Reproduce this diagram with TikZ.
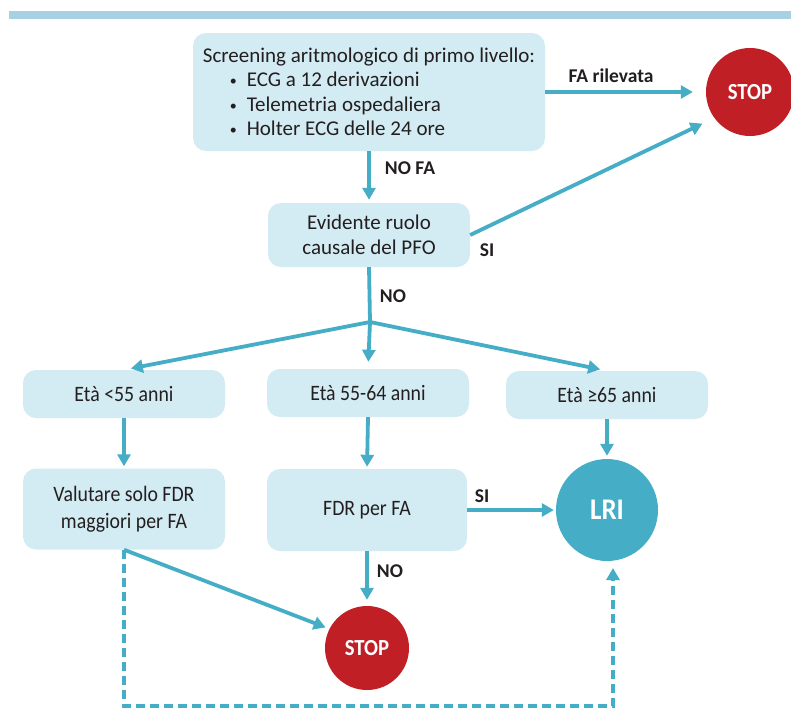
\documentclass[tikz,border=0pt]{standalone}
\usepackage{fontspec}
\setmainfont{Carlito}
\newfontfamily\narrowfont[FakeStretch=0.9]{Carlito}
\usetikzlibrary{positioning,calc,arrows.meta,shapes.geometric}
\definecolor{boxfill}{HTML}{D3EBF2}
\definecolor{flowline}{HTML}{45AEC6}
\definecolor{stopred}{HTML}{C11F26}
\definecolor{barblue}{HTML}{A8D0E4}
\definecolor{textgray}{HTML}{231F20}
\newcommand{\listdot}{\hspace*{27pt}\raisebox{1pt}{\fontsize{14}{14}\selectfont\textbullet}\hspace{10pt}}

\tikzset{
  stepbox/.style={fill=boxfill, rounded corners=13pt, text=textgray, align=center, inner sep=0pt},
  agebox/.style={stepbox, minimum width=202pt, font=\narrowfont\fontsize{22}{27}\selectfont},
  endnode/.style={circle, inner sep=0pt, text=white, font=\narrowfont\bfseries\fontsize{23}{25}\selectfont},
  flow/.style={draw=flowline, line width=3.8pt, -{Triangle[length=12pt,width=13pt]}},
  dashflow/.style={flow, dash pattern=on 9pt off 5pt, line width=3.8pt},
  flowlabel/.style={text=textgray, font=\bfseries\fontsize{19.5}{21}\selectfont, inner sep=0pt}
}

\begin{document}
\begin{tikzpicture}[x=1pt, y=-1pt, font=\fontsize{21}{24.5}\selectfont]

  \useasboundingbox (0,0) rectangle (791,721);
  \fill[barblue] (9,11) rectangle (791,19);

  % boxes
  \node[stepbox, minimum width=352pt, minimum height=118pt, align=left] (screen) at (369,92)
    {Screening aritmologico di primo livello:\\
     \listdot ECG a 12 derivazioni\\
     \listdot Telemetria ospedaliera\\
     \listdot Holter ECG delle 24 ore};
  \node[stepbox, minimum width=202pt, minimum height=64pt] (cause) at (369,235)
    {Evidente ruolo\\causale del PFO};

  \node[agebox, minimum height=48pt] (ageA) at (124,394) {Età <55 anni};
  \node[agebox, minimum height=48pt] (ageB) at (368,393) {Età 55-64 anni};
  \node[agebox, minimum height=48pt] (ageC) at (607,395) {Età ≥65 anni};

  \node[agebox, minimum height=81pt] (evalA) at (124,509) {Valutare solo FDR\\maggiori per FA};
  \node[agebox, minimum height=82pt, minimum width=200pt] (fdr) at (367,510) {FDR per FA};

  \node[endnode, fill=stopred, minimum size=88pt] (stopA) at (750,92) {STOP};
  \node[endnode, fill=stopred, minimum size=84pt] (stopB) at (367,648) {STOP};
  \node[endnode, fill=flowline, minimum size=102pt, font=\narrowfont\bfseries\fontsize{30}{32}\selectfont] (lri) at (607,510) {LRI};

  \coordinate (fork) at (370,322);
  \coordinate (loopbase) at (613,706);
  \coordinate (loopend) at (613,568);

  % connectors
  \draw[flow, shorten >=13pt] (screen) -- (stopA);
  \draw[flow, shorten >=3pt] (screen.south) -- (cause.north);
  \draw[flow, shorten >=13pt] (cause.east) -- (stopA.216);
  \draw[draw=flowline, line width=3.8pt] (cause.south) -- (fork);
  \foreach \age in {ageA,ageB,ageC} {
    \draw[flow, shorten >=7pt] (fork) -- (\age.north);
  }
  \draw[flow, shorten >=2pt] (ageA.south) -- (evalA.north);
  \draw[flow, shorten >=2pt] (ageB.south) -- (fdr.north);
  \draw[flow, shorten >=3pt] (ageC.south) -- (lri.north);
  \draw[flow, shorten >=2pt] (fdr.east) -- (lri.west);
  \draw[flow, shorten >=6pt] (fdr.south) -- (stopB.north);
  \draw[flow, shorten >=4pt] (evalA.south) -- (stopB.153);
  \draw[dashflow] (evalA.south) |- (loopbase) -- (loopend);

  % labels
  \node[flowlabel] (lblFA) at (611,76) {FA rilevata};
  \node[flowlabel] (lblNoFA) at (410,168) {NO FA};
  \node[flowlabel] (lblSiA) at (487,250) {SI};
  \node[flowlabel] (lblNoA) at (393,296) {NO};
  \node[flowlabel] (lblSiB) at (482,496) {SI};
  \node[flowlabel] (lblNoB) at (390,571) {NO};
\end{tikzpicture}
\end{document}
